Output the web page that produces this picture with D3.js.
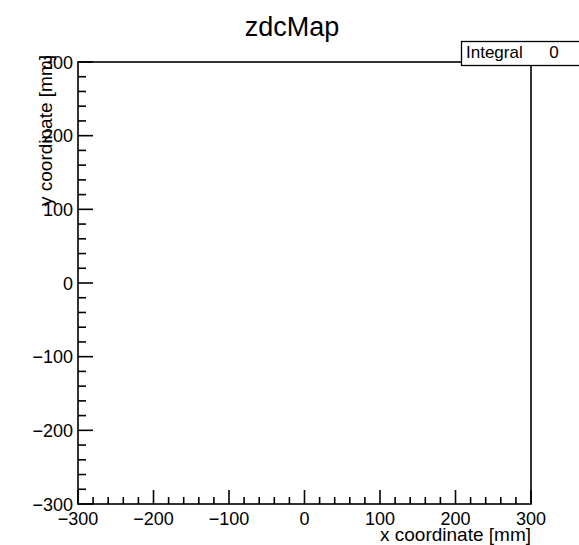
<!DOCTYPE html>
<meta charset="utf-8">
<head>
    <style>
        body { margin: 0; background: #fff; }
        text { font-family: "Liberation Sans", Arial, sans-serif; fill: #000; }
    </style>
</head>
<body>
    <svg width="579" height="545"></svg>
</body>
<script src="https://d3js.org/d3.v7.min.js"></script>
<script>
    var title = "zdcMap",
        xTitle = "x coordinate [mm]",
        yTitle = "y coordinate [mm]";
    var xDomain = [-300, 300],
        yDomain = [-300, 300];
    var majorTicks = [-300, -200, -100, 0, 100, 200, 300];
    var minorTicks = d3.range(-300, 301, 20);
    var statLabels = ["Integral"],
        statValues = [0];

    var svg = d3.select("svg"),
        padL = 78, padR = 531, padT = 62, padB = 504;

    var x = d3.scaleLinear().domain(xDomain).range([padL, padR]);
    var y = d3.scaleLinear().domain(yDomain).range([padB, padT]);

    svg.append("rect").attr("width", 579).attr("height", 545).attr("fill", "#fff");

    // frame
    svg.append("rect")
        .attr("x", padL).attr("y", padT)
        .attr("width", padR - padL).attr("height", padB - padT)
        .attr("fill", "none").attr("stroke", "#000").attr("stroke-width", 1.6);

    // x ticks
    svg.append("g").selectAll("line")
        .data(minorTicks)
        .enter().append("line")
        .attr("x1", function (d) { return x(d); })
        .attr("x2", function (d) { return x(d); })
        .attr("y1", padB)
        .attr("y2", function (d) { return padB - (d % 100 === 0 ? 14 : 7); })
        .attr("stroke", "#000").attr("stroke-width", 1.6);

    // y ticks
    svg.append("g").selectAll("line")
        .data(minorTicks)
        .enter().append("line")
        .attr("y1", function (d) { return y(d); })
        .attr("y2", function (d) { return y(d); })
        .attr("x1", padL)
        .attr("x2", function (d) { return padL + (d % 100 === 0 ? 15 : 8); })
        .attr("stroke", "#000").attr("stroke-width", 1.6);

    function fmt(d) { return d < 0 ? "\u2212" + (-d) : String(d); }

    svg.append("g").selectAll("text")
        .data(majorTicks)
        .enter().append("text")
        .attr("x", function (d) { return x(d); })
        .attr("y", 525)
        .attr("text-anchor", "middle")
        .attr("font-size", 18)
        .text(fmt);

    svg.append("g").selectAll("text")
        .data(majorTicks)
        .enter().append("text")
        .attr("x", 73)
        .attr("y", function (d) { return y(d) + 6.5; })
        .attr("text-anchor", "end")
        .attr("font-size", 18)
        .text(fmt);

    svg.append("text")
        .attr("x", padR).attr("y", 541)
        .attr("text-anchor", "end").attr("font-size", 19)
        .text(xTitle);

    svg.append("text")
        .attr("transform", "translate(52,55) rotate(-90)")
        .attr("text-anchor", "end").attr("font-size", 19)
        .text(yTitle);

    svg.append("text")
        .attr("x", 292).attr("y", 36)
        .attr("text-anchor", "middle").attr("font-size", 27)
        .text(title);

    // stat box
    var stat = svg.append("g");
    stat.append("rect")
        .attr("x", 461.5).attr("y", 41.5)
        .attr("width", 130).attr("height", 24)
        .attr("fill", "#fff").attr("stroke", "#000").attr("stroke-width", 1.3);
    stat.selectAll("text.l")
        .data(statLabels)
        .enter().append("text")
        .attr("x", 466).attr("y", 58)
        .attr("font-size", 17)
        .text(function (d) { return d; });
    stat.selectAll("text.v")
        .data(statValues)
        .enter().append("text")
        .attr("x", 554).attr("y", 58)
        .attr("text-anchor", "middle")
        .attr("font-size", 17)
        .text(function (d) { return d; });
</script>
